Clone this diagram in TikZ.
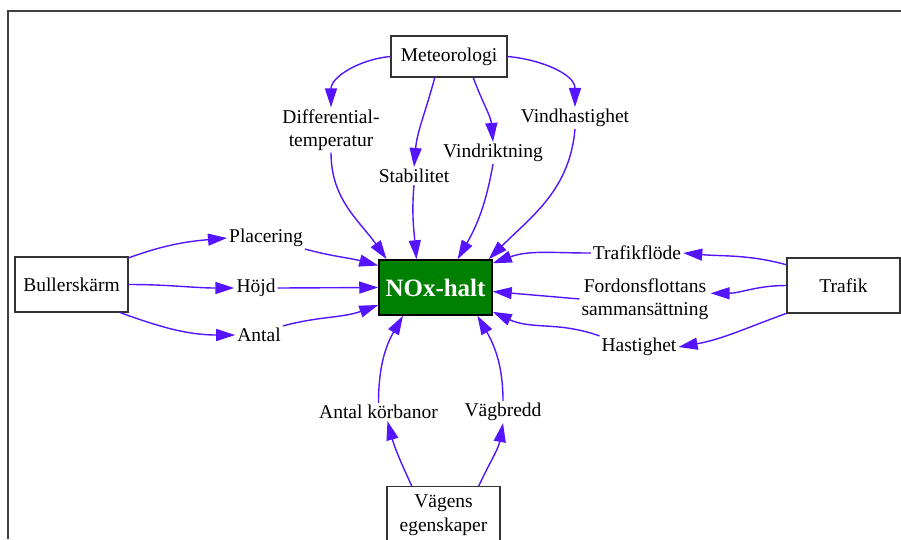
\documentclass[tikz,border=0pt]{standalone}
\usepackage{fontspec}
\setmainfont{Liberation Serif}
\usetikzlibrary{arrows.meta}
\definecolor{arrowviolet}{RGB}{85,20,255}
\definecolor{noxgreen}{RGB}{0,128,0}

\begin{document}
\begin{tikzpicture}[x=1pt,y=1pt,
  box/.style={draw=black!80,line width=1.2pt,fill=white,minimum width=113pt,minimum height=55pt,align=center,font=\fontsize{19.5}{24}\selectfont},
  noxbox/.style={draw=black,line width=1.5pt,fill=noxgreen,text=white,minimum width=113pt,minimum height=55pt,font=\fontsize{25}{30}\selectfont\bfseries},
  lbl/.style={inner sep=2pt,align=center,font=\fontsize{19.5}{23}\selectfont},
  edge/.style={draw=arrowviolet,line width=1.4pt,-{Triangle[length=19pt,width=12pt]}}]
  \useasboundingbox (0,0) rectangle (901,-539);
  \draw[black!75,line width=1.6pt] (8,-539) -- (8,-11) -- (901,-11);

  \node[noxbox] (nox) at (435.5,-287.5) {NOx-halt};
  \node[box,minimum width=116pt,minimum height=41pt] (met) at (449,-56.5) {Meteorologi};
  \node[box] (bull) at (71.5,-284.5) {Bullerskärm};
  \node[box] (traf) at (843.5,-285.5) {Trafik};
  \node[box,minimum height=58pt] (veg) at (443.5,-515.5) {Vägens\\egenskaper};

  \node[lbl] (dt) at (331,-130) {Differential-\\temperatur};
  \node[lbl] (stab) at (414,-176) {Stabilitet};
  \node[lbl] (vindr) at (493,-153) {Vindriktning};
  \node[lbl] (vh) at (575,-118) {Vindhastighet};
  \node[lbl] (plac) at (266,-238) {Placering};
  \node[lbl] (hojd) at (256,-288) {Höjd};
  \node[lbl] (antal) at (259,-335) {Antal};
  \node[lbl] (tf) at (637,-253) {Trafikflöde};
  \node[lbl] (ford) at (645,-299) {Fordonsflottans\\sammansättning};
  \node[lbl] (hast) at (639,-347) {Hastighet};
  \node[lbl] (akb) at (378.5,-412) {Antal körbanor};
  \node[lbl] (vb) at (503,-412) {Vägbredd};

  \draw[edge] (met.west) to[out=185,in=90] (dt.north);
  \draw[edge] (met.236) to[out=255,in=85] (stab.north);
  \draw[edge] (met.-41) to[out=-70,in=95] (vindr.north);
  \draw[edge] (met.east) to[out=-5,in=90] (vh.north);

  \draw[edge] (dt.south) to[out=-90,in=125] (nox.150);
  \draw[edge] (stab.south) to[out=-95,in=95] (nox.124);
  \draw[edge] (vindr.south) to[out=-100,in=60] (nox.52);
  \draw[edge] (vh.south) to[out=-95,in=45] (nox.28);
  \draw[edge] (tf.west) to[out=180,in=20] (nox.23);
  \draw[edge] (plac.south east) to[out=-15,in=165] (nox.159);
  \draw[edge] (hojd.east) -- (nox.west);
  \draw[edge] (antal.north east) to[out=15,in=200] (nox.197);
  \draw[edge] (ford.west) to[out=175,in=-5] (nox.-4);
  \draw[edge] (hast.north west) to[out=160,in=-25] (nox.-23);
  \draw[edge] (akb.north) to[out=90,in=-120] (nox.221);
  \draw[edge] (vb.north) to[out=90,in=-60] (nox.326);

  \draw[edge] (bull.25) to[out=20,in=185] (plac.west);
  \draw[edge] (bull.east) to[out=0,in=180] (hojd.west);
  \draw[edge] (bull.330) to[out=-20,in=180] (antal.west);

  \draw[edge] (traf.160) to[out=165,in=-5] (tf.east);
  \draw[edge] (traf.west) to[out=180,in=0] (ford.5);
  \draw[edge] (traf.206) to[out=200,in=10] (hast.east);

  \draw[edge] (veg.137) to[out=115,in=-75] ([xshift=9pt]akb.south);
  \draw[edge] (veg.40) to[out=65,in=-100] (vb.south);
\end{tikzpicture}
\end{document}
